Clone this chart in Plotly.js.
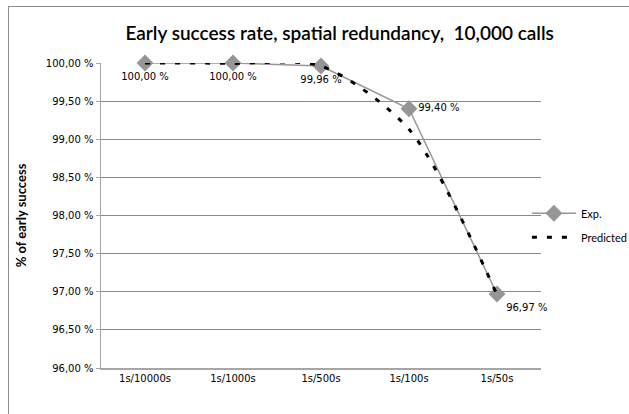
<!DOCTYPE html>
<html>
<head>
<meta charset="utf-8">
<script src="https://cdn.plot.ly/plotly-3.0.1.min.js"></script>
<style>
html,body{margin:0;padding:0;background:#fff;}
#wrap{position:relative;width:629px;height:414px;overflow:hidden;}
#frame{position:absolute;left:8px;top:6px;width:700px;height:500px;border:1px solid #8c8c8c;box-sizing:border-box;pointer-events:none;z-index:5;}
#chart{position:absolute;left:0;top:0;width:629px;height:414px;}
</style>
</head>
<body>
<div id="wrap"><div id="chart"></div><div id="frame"></div></div>
<script>
const categories = ["1s/10000s", "1s/1000s", "1s/500s", "1s/100s", "1s/50s"];
const expValues = [100.00, 100.00, 99.96, 99.40, 96.97];
const predictedValues = [100.00, 99.995, 99.96, 99.13, 96.96];
const labelPositions = ["bottom center", "bottom center", "bottom center", "middle right", "bottom right"];
const tickVals = [96.0, 96.5, 97.0, 97.5, 98.0, 98.5, 99.0, 99.5, 100.0];
const tickText = tickVals.map(v => v.toFixed(2).replace(".", ",") + " %");

const tickFont = {family: "DejaVu Sans, Verdana, sans-serif", size: 10, color: "#000"};

const traces = [
  {
    x: categories, y: expValues, name: "Exp.", type: "scatter",
    mode: "lines+markers+text",
    legendgroup: "a",
    line: {color: "#969696", width: 1.5},
    marker: {symbol: "diamond", size: 13, color: "#969696"},
    texttemplate: "%{y:.2f} %",
    textposition: labelPositions,
    textfont: tickFont,
    cliponaxis: false
  },
  {
    x: categories, y: predictedValues, name: "Predicted", type: "scatter",
    mode: "lines",
    legendgroup: "b",
    line: {color: "#000", width: 3, dash: "5px,10px", shape: "spline", smoothing: 0.8}
  }
];

const layout = {
  width: 629, height: 414,
  margin: {l: 101, r: 88, t: 63, b: 46, autoexpand: false},
  paper_bgcolor: "#fff", plot_bgcolor: "#fff",
  separators: ", ",
  showlegend: true,
  title: {
    text: "Early success rate, spatial redundancy,  10,000 calls",
    font: {family: "Lato, Open Sans, sans-serif", size: 19, color: "#000", weight: 600},
    x: 0.54, xanchor: "center", y: 0.92, yanchor: "middle"
  },
  xaxis: {
    type: "category",
    showgrid: false, zeroline: false,
    showline: true, linecolor: "#a6a6a6", linewidth: 1.5,
    ticks: "", tickfont: tickFont,
    range: [-0.5, 4.5]
  },
  yaxis: {
    range: [96, 100],
    tickmode: "array",
    tickvals: tickVals,
    ticktext: tickText,
    tickfont: tickFont,
    showgrid: true, gridcolor: "#8a8a8a", gridwidth: 1,
    zeroline: false,
    showline: true, linecolor: "#a6a6a6", linewidth: 1.5,
    ticks: "outside", ticklen: 4, tickcolor: "#a6a6a6",
    title: {text: "<b>% of early success</b>", font: {family: "Lato, Open Sans, sans-serif", size: 13, color: "#000"}, standoff: 16}
  },
  legend: {
    x: 0.968, xanchor: "left", y: 0.555, yanchor: "top",
    font: {family: "Lato, Open Sans, sans-serif", size: 11, color: "#000"},
    bgcolor: "rgba(0,0,0,0)", itemwidth: 44,
    traceorder: "grouped", tracegroupgap: 5
  }
};

Plotly.newPlot("chart", traces, layout, {staticPlot: true, displayModeBar: false});
</script>
</body>
</html>
